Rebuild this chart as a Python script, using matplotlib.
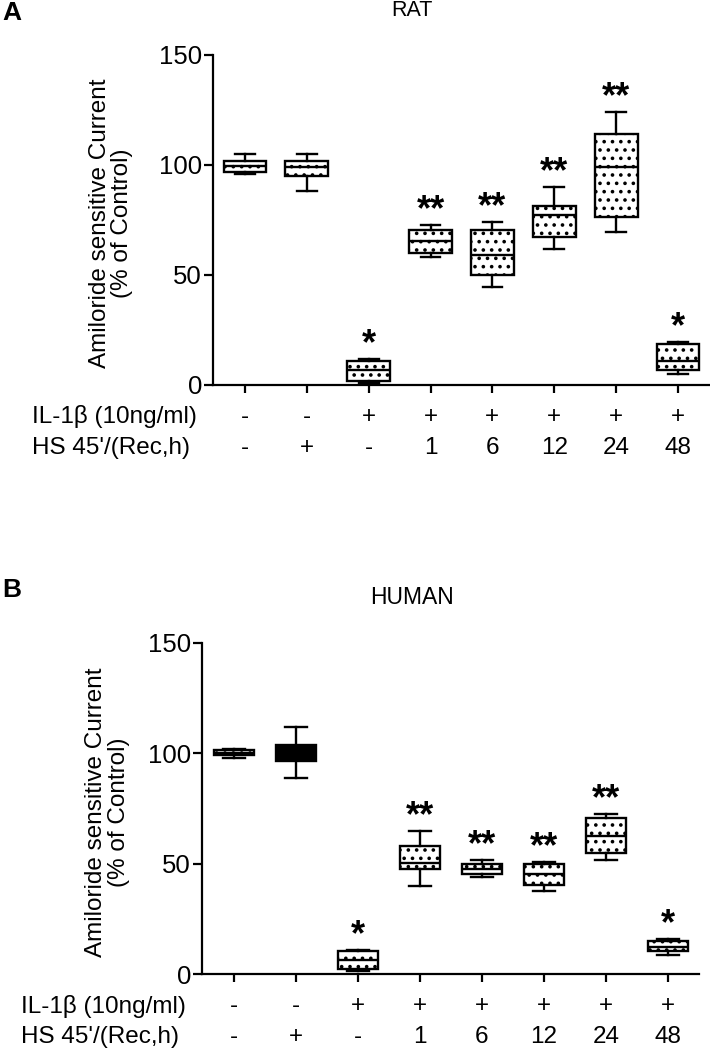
import matplotlib
matplotlib.use('Agg')
import matplotlib.pyplot as plt

plt.rcParams['font.family'] = ['Liberation Sans', 'DejaVu Sans']
plt.rcParams['hatch.linewidth'] = 1.4
plt.rcParams['hatch.color'] = 'black'

# ---------------- data ----------------
positions = [1, 2, 3, 4, 5, 6, 7, 8]
il1b_row = ['-', '-', '+', '+', '+', '+', '+', '+']
hs_row = ['-', '+', '-', '1', '6', '12', '24', '48']
yticks = [0, 50, 100, 150]

rat_whislo = [96, 88, 1, 58, 44.6, 62, 69.7, 4.8]
rat_q1 = [97, 95, 2, 60, 50, 67.5, 76.5, 7]
rat_med = [99.5, 99, 7, 65.5, 59, 77.3, 99, 11]
rat_q3 = [102, 102, 11, 70.5, 70.5, 81.5, 114, 18.6]
rat_whishi = [105, 105, 12, 72.7, 74, 90, 124, 19.7]
rat_stars = ['', '', '*', '**', '**', '**', '**', '*']

human_whislo = [97.7, 88.6, 1.5, 39.7, 43.8, 37.4, 51.7, 8.6]
human_q1 = [99.2, 96.4, 2.3, 47.6, 45.3, 40.2, 54.8, 10.5]
human_med = [100.3, 100.3, 6.4, 50.3, 47.6, 45.3, 62.7, 12.4]
human_q3 = [101.4, 104, 10.5, 58.2, 50, 50, 70.5, 15]
human_whishi = [102, 111.8, 11, 64.7, 51.7, 50.6, 72.6, 15.9]
human_stars = ['', '', '*', '**', '**', '**', '**', '*']

W, H = 710, 1050
fig = plt.figure(figsize=(W / 100, H / 100), dpi=100)


def fx(px):
    return px / W


def fy(py):
    return 1 - py / H


def panel(left, right, top, bottom, whislo, q1, med, q3, whishi, stars,
          widths, capw, black_idx=None):
    ax = fig.add_axes([fx(left), fy(bottom), fx(right - left), (bottom - top) / H])
    stats = []
    for lo, a, m, b, hi in zip(whislo, q1, med, q3, whishi):
        stats.append(dict(whislo=lo, q1=a, med=m, q3=b, whishi=hi, fliers=[]))
    lw = 1.7
    bp = ax.bxp(stats, positions=positions, widths=widths, capwidths=capw,
                patch_artist=True, showfliers=False, manage_ticks=False,
                boxprops=dict(facecolor='white', edgecolor='black',
                              linewidth=lw, hatch='..'),
                medianprops=dict(color='black', linewidth=lw),
                whiskerprops=dict(color='black', linewidth=lw),
                capprops=dict(color='black', linewidth=lw))
    if black_idx is not None:
        bp['boxes'][black_idx].set_facecolor('black')
        bp['boxes'][black_idx].set_hatch('')
    for p, s, hi in zip(positions, stars, whishi):
        if s:
            ax.annotate(s, xy=(p, hi), xytext=(0, 3.5), textcoords='offset points',
                        ha='center', va='baseline', fontsize=26,
                        fontweight='bold')
    ax.set_xlim(0.484, 8.5)
    ax.set_ylim(0, 150)
    ax.set_yticks(yticks)
    ax.set_yticklabels([str(t) for t in yticks], fontsize=18.5)
    ax.set_xticks(positions)
    ax.set_xticklabels([''] * len(positions))
    for sp in ['top', 'right']:
        ax.spines[sp].set_visible(False)
    for sp in ['left', 'bottom']:
        ax.spines[sp].set_linewidth(1.6)
    ax.tick_params(axis='y', length=6.5, width=1.6, pad=1.5)
    ax.tick_params(axis='x', length=6, width=1.6)
    for p, a, b in zip(positions, il1b_row, hs_row):
        ax.annotate(a, xy=(p, 0), xycoords=('data', 'axes fraction'),
                    xytext=(0, -23), textcoords='offset points',
                    ha='center', va='center', fontsize=17.5)
        ax.annotate(b, xy=(p, 0), xycoords=('data', 'axes fraction'),
                    xytext=(0, -45.5), textcoords='offset points',
                    ha='center', va='center', fontsize=17.5)
    return ax


# Panel A (RAT)
panel(213, 709, 55, 385, rat_whislo, rat_q1, rat_med, rat_q3, rat_whishi,
      rat_stars, 0.69, 0.32)
fig.text(fx(32), fy(417), 'IL-1β (10ng/ml)', ha='left', va='center', fontsize=17.5)
fig.text(fx(32), fy(448), "HS 45'/(Rec,h)", ha='left', va='center', fontsize=17.5)
fig.text(fx(111), fy(223), 'Amiloride sensitive Current\n(% of Control)',
         rotation=90, ha='center', va='center', multialignment='center',
         fontsize=17.5, linespacing=1.05)
fig.text(fx(412), fy(10), 'RAT', ha='center', va='center', fontsize=15.5)
fig.text(fx(2), fy(13), 'A', ha='left', va='center', fontsize=19, fontweight='bold')

# Panel B (HUMAN)
panel(202, 699, 643, 974, human_whislo, human_q1, human_med, human_q3,
      human_whishi, human_stars, 0.66, 0.34, black_idx=1)
fig.text(fx(21), fy(1007), 'IL-1β (10ng/ml)', ha='left', va='center', fontsize=17.5)
fig.text(fx(21), fy(1037), "HS 45'/(Rec,h)", ha='left', va='center', fontsize=17.5)
fig.text(fx(107.5), fy(812), 'Amiloride sensitive Current\n(% of Control)',
         rotation=90, ha='center', va='center', multialignment='center',
         fontsize=17.5, linespacing=1.05)
fig.text(fx(412), fy(597), 'HUMAN', ha='center', va='center', fontsize=16.5)
fig.text(fx(2), fy(590), 'B', ha='left', va='center', fontsize=19, fontweight='bold')

fig.savefig('out.png', dpi=100)
